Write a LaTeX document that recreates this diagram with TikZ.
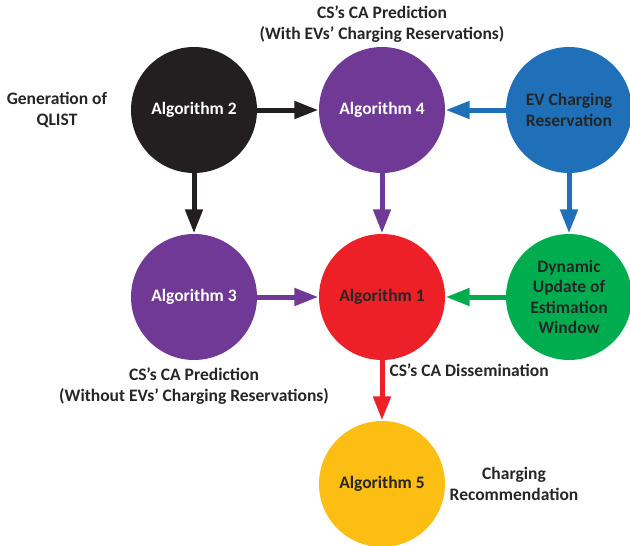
\documentclass[tikz,border=0pt]{standalone}
\usepackage{fontspec}
\setmainfont{Carlito}
\usetikzlibrary{arrows.meta}
\definecolor{cblack}{HTML}{231F20}
\definecolor{cpurple}{HTML}{713996}
\definecolor{cblue}{HTML}{1F70B8}
\definecolor{cred}{HTML}{ED2027}
\definecolor{cgreen}{HTML}{00AD4E}
\definecolor{cyellow}{HTML}{FCBE12}
\definecolor{ctext}{HTML}{262626}
\tikzset{
  alg/.style={circle, minimum size=126pt, inner sep=0pt, align=center,
    font=\fontsize{17.5}{20.5}\selectfont\bfseries, text=ctext},
  lbl/.style={align=center, font=\fontsize{17.5}{20.5}\selectfont\bfseries, text=ctext},
  conn/.style={line width=5pt, -{Triangle[length=24pt,width=17pt]}, shorten >=0.5pt},
}
\begin{document}
\begin{tikzpicture}[x=1pt,y=-1pt]
\useasboundingbox (0,0) rectangle (630,546);
\clip (0,0) rectangle (630,546);
\node[alg, fill=cblack, text=white] (a2) at (194,110) {Algorithm 2};
\node[alg, fill=cpurple, text=white] (a4) at (382,110) {Algorithm 4};
\node[alg, fill=cblue] (ev) at (569,110) {EV Charging\\Reservation};
\node[alg, fill=cpurple, text=white] (a3) at (194,297) {Algorithm 3};
\node[alg, fill=cred] (a1) at (382,297) {Algorithm 1};
\node[alg, fill=cgreen] (dyn) at (569,297) {Dynamic\\Update of\\Estimation\\Window};
\node[alg, fill=cyellow] (a5) at (382,484) {Algorithm 5};

\draw[conn, cblack] (a2) -- (a4);
\draw[conn, cblack] (a2) -- (a3);
\draw[conn, cblue] (ev) -- (a4);
\draw[conn, cblue] (ev) -- (dyn);
\draw[conn, cpurple] (a4) -- (a1);
\draw[conn, cpurple] (a3) -- (a1);
\draw[conn, cgreen] (dyn) -- (a1);
\draw[conn, cred] (a1) -- (a5);

\node[lbl] (t4) at (382,24) {CS’s CA Prediction\\(With EVs’ Charging Reservations)};
\node[lbl] (tq) at (57,110) {Generation of\\QLIST};
\node[lbl] (t3) at (194,386) {CS’s CA Prediction\\(Without EVs’ Charging Reservations)};
\node[lbl, anchor=west] (td) at (386,370) {CS’s CA Dissemination};
\node[lbl] (tc) at (514,484) {Charging\\Recommendation};
\end{tikzpicture}
\end{document}
